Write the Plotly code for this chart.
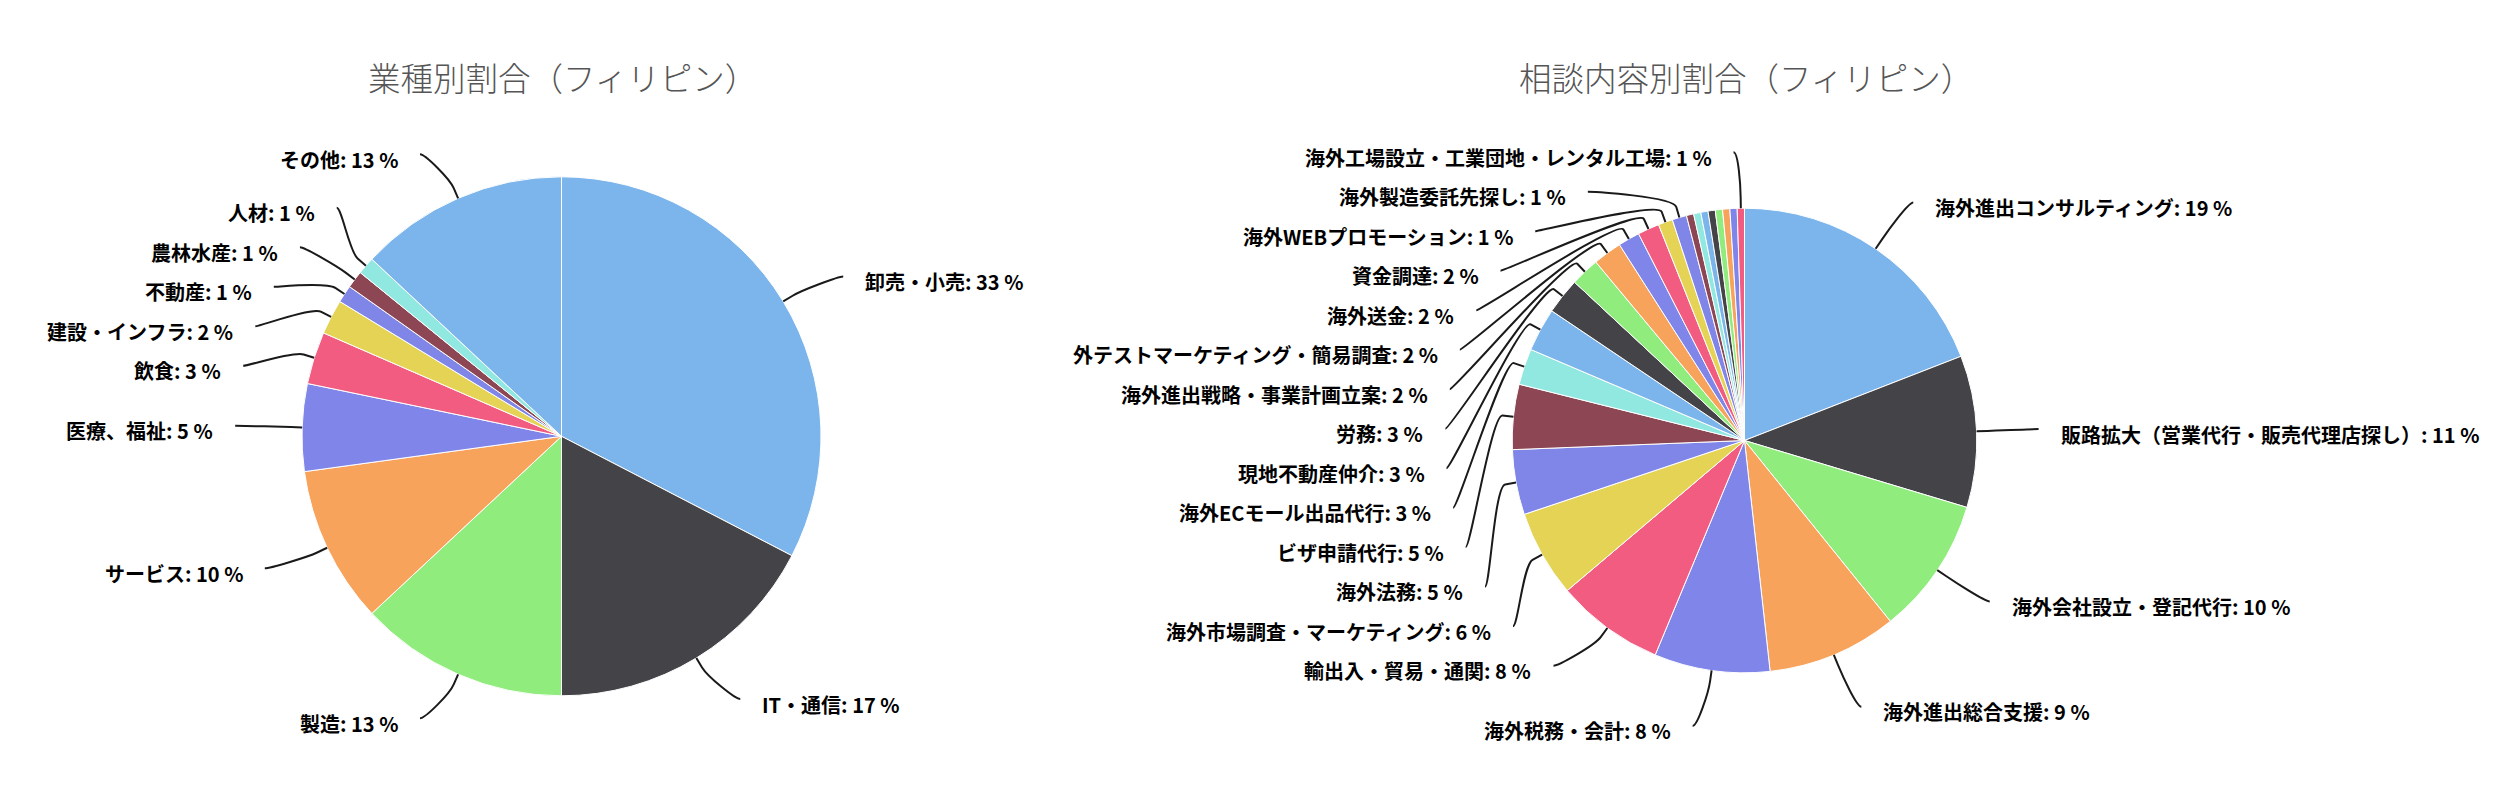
import math
import plotly.graph_objects as go

# ---------------- data ----------------
industry_names = ["卸売・小売", "IT・通信", "製造", "サービス", "医療、福祉", "飲食",
                  "建設・インフラ", "不動産", "農林水産", "人材", "その他"]
industry_counts = [30, 16, 12, 9, 5, 3, 2, 1, 1, 1, 12]

consult_names = [
    "海外進出コンサルティング",
    "販路拡大（営業代行・販売代理店探し）",
    "海外会社設立・登記代行",
    "海外進出総合支援",
    "海外税務・会計",
    "輸出入・貿易・通関",
    "海外市場調査・マーケティング",
    "海外法務",
    "ビザ申請代行",
    "海外ECモール出品代行",
    "現地不動産仲介",
    "労務",
    "海外進出戦略・事業計画立案",
    "海外テストマーケティング・簡易調査",
    "海外送金",
    "資金調達",
    "海外WEBプロモーション",
    "海外製造委託先探し",
    "ラベル非表示 1",
    "ラベル非表示 2",
    "ラベル非表示 3",
    "ラベル非表示 4",
    "ラベル非表示 5",
    "ラベル非表示 6",
    "ラベル非表示 7",
    "海外工場設立・工業団地・レンタル工場",
]
consult_counts = [38, 21, 19, 18, 16, 15, 12, 9, 9, 5, 6, 5, 4, 4, 3, 3, 2, 2,
                  1, 1, 1, 1, 1, 1, 1, 1]

titles = ["業種別割合（フィリピン）", "相談内容別割合（フィリピン）"]

# ---------------- style / layout ----------------
W, H = 2496, 792
PALETTE = ["#7cb5ec", "#434348", "#90ed7d", "#f7a35c", "#8085e9",
           "#f15c80", "#e4d354", "#8085e8", "#8d4653", "#91e8e1"]
FONT = "Noto Sans CJK JP, Noto Sans, sans-serif"
LABEL_SIZE = 20
TITLE_SIZE = 32.5
SLOT_H = 39.5
CONNECTOR_OFFSET = 11

PIES = [
    dict(names=industry_names, values=industry_counts, title=titles[0],
         cx=561.5, cy=436.3, r=259.5, dist=48, off_l=39, off_r=39, clip=0),
    dict(names=consult_names, values=consult_counts, title=titles[1],
         cx=1744.5, cy=440.5, r=232.3, dist=56, off_l=31, off_r=26, clip=1070),
]


def paper(px, py):
    return px / W, 1 - py / H


def mid_angles(values):
    total = float(sum(values))
    mids, cum = [], 0.0
    for v in values:
        a0 = cum / total * 360.0
        cum += v
        a1 = cum / total * 360.0
        mids.append((a0 + a1) / 2.0)
    return mids


def place_labels(values, cx, cy, r, dist):
    """Highcharts-like label slots: labels on each side snap to rows."""
    R = r + dist
    mids = mid_angles(values)
    top = cy - R
    nslots = int((2 * R) // SLOT_H) + 1
    out = {}
    for left in (False, True):
        pts = [i for i, m in enumerate(mids) if (m > 180) == left]
        nat = {i: cy - R * math.cos(math.radians(mids[i])) for i in pts}
        pts.sort(key=lambda i: nat[i])
        if len(pts) > nslots:
            ranked = sorted(pts, key=lambda i: -values[i])
            keep = set(ranked[:nslots])
            pts = [i for i in pts if i in keep]
        fidx = {i: (nat[i] - top) / SLOT_H for i in pts}
        clusters = [[i] for i in pts]
        starts = [min(max(int(round(fidx[i])), 0), nslots - 1) for i in pts]
        changed = True
        while changed:
            changed = False
            for k in range(len(clusters) - 1):
                if starts[k] + len(clusters[k]) > starts[k + 1]:
                    merged = clusters[k] + clusters[k + 1]
                    n = len(merged)
                    mean = sum(fidx[i] for i in merged) / n
                    s = min(max(int(round(mean - (n - 1) / 2.0)), 0), nslots - n)
                    clusters[k:k + 2] = [merged]
                    starts[k:k + 2] = [s]
                    changed = True
                    break
        used, slot_of = set(), {}
        for cl, s in zip(clusters, starts):
            for j, i in enumerate(cl):
                slot_of[i] = s + j
                used.add(s + j)
        for i in pts:
            s = slot_of[i]
            y = top + s * SLOT_H
            if (nat[i] > y and (s + 1) not in used) or (nat[i] < y and (s - 1) not in used):
                y = nat[i]
            dy = max(-R, min(R, y - cy))
            x = cx + (-1 if left else 1) * math.sqrt(R * R - dy * dy)
            out[i] = (x, y, left, mids[i])
    return out


def text_width(s, size):
    w = 0.0
    for ch in s:
        o = ord(ch)
        if o >= 0x2E80 or ch in "・、（）":
            w += 1.0
        elif ch == " ":
            w += 0.25
        elif ch == ":":
            w += 0.27
        elif ch == "%":
            w += 0.86
        elif ch.isdigit():
            w += 0.56
        elif ch.isupper():
            w += 0.64
        else:
            w += 0.5
    return w * size


def fmt_pct(v, total):
    return int(math.floor(100.0 * v / total + 0.5))


fig = go.Figure()
annotations = []
shapes = []

for p in PIES:
    cx, cy, r = p["cx"], p["cy"], p["r"]
    x0, y1 = paper(cx - r, cy - r)
    x1, y0 = paper(cx + r, cy + r)
    fig.add_trace(go.Pie(
        labels=p["names"], values=p["values"], sort=False,
        direction="clockwise", rotation=0, textinfo="none",
        hoverinfo="label+percent",
        marker=dict(colors=[PALETTE[i % len(PALETTE)] for i in range(len(p["values"]))],
                    line=dict(color="#ffffff", width=1)),
        domain=dict(x=[x0, x1], y=[y0, y1]),
        showlegend=False,
    ))

    # title
    tx, ty = paper(cx + 1, 77)
    annotations.append(dict(
        x=tx, y=ty, xref="paper", yref="paper", text=p["title"], showarrow=False,
        xanchor="center", yanchor="middle",
        font=dict(family=FONT, size=TITLE_SIZE, color="#555555", weight=300)))

    total = float(sum(p["values"]))
    pos = place_labels(p["values"], cx, cy, r, p["dist"])
    for i, (lx, ly, left, mid) in pos.items():
        txt = "%s: %d %%" % (p["names"][i], fmt_pct(p["values"][i], total))
        if left:
            edge = lx - p["off_l"]
            # the chart container clips text that runs past its left border
            while edge - text_width(txt, LABEL_SIZE) < p["clip"] and len(txt) > 1:
                txt = txt[1:]
            sx = edge + 20
            c1x = sx + 5
        else:
            edge = lx + p["off_r"]
            sx = edge - 20
            c1x = sx - 5
        ax, ay = paper(edge, ly + 5)
        annotations.append(dict(
            x=ax, y=ay, xref="paper", yref="paper", text=txt, showarrow=False,
            xanchor="right" if left else "left", yanchor="middle",
            font=dict(family=FONT, size=LABEL_SIZE, color="#000000", weight="bold")))

        t = math.radians(mid)
        ux, uy = math.sin(t), -math.cos(t)
        p3 = (cx + r * ux, cy + r * uy)
        p2 = (cx + (r + CONNECTOR_OFFSET) * ux, cy + (r + CONNECTOR_OFFSET) * uy)
        c2 = (2 * p2[0] - p3[0], 2 * p2[1] - p3[1])
        pts = [paper(sx, ly), paper(c1x, ly), paper(*c2), paper(*p2), paper(*p3)]
        path = "M {:.6f},{:.6f} C {:.6f},{:.6f} {:.6f},{:.6f} {:.6f},{:.6f} L {:.6f},{:.6f}".format(
            pts[0][0], pts[0][1], pts[1][0], pts[1][1], pts[2][0], pts[2][1],
            pts[3][0], pts[3][1], pts[4][0], pts[4][1])
        shapes.append(dict(type="path", path=path, xref="paper", yref="paper",
                           line=dict(color="#1a1a1a", width=2), layer="above"))

fig.update_layout(
    width=W, height=H,
    margin=dict(l=0, r=0, t=0, b=0),
    paper_bgcolor="#ffffff", plot_bgcolor="#ffffff",
    showlegend=False,
    annotations=annotations,
    shapes=shapes,
)

fig.write_html("out.html",
               config={"displayModeBar": False},
               post_script="document.body.style.margin='0';document.body.style.overflow='hidden';")
